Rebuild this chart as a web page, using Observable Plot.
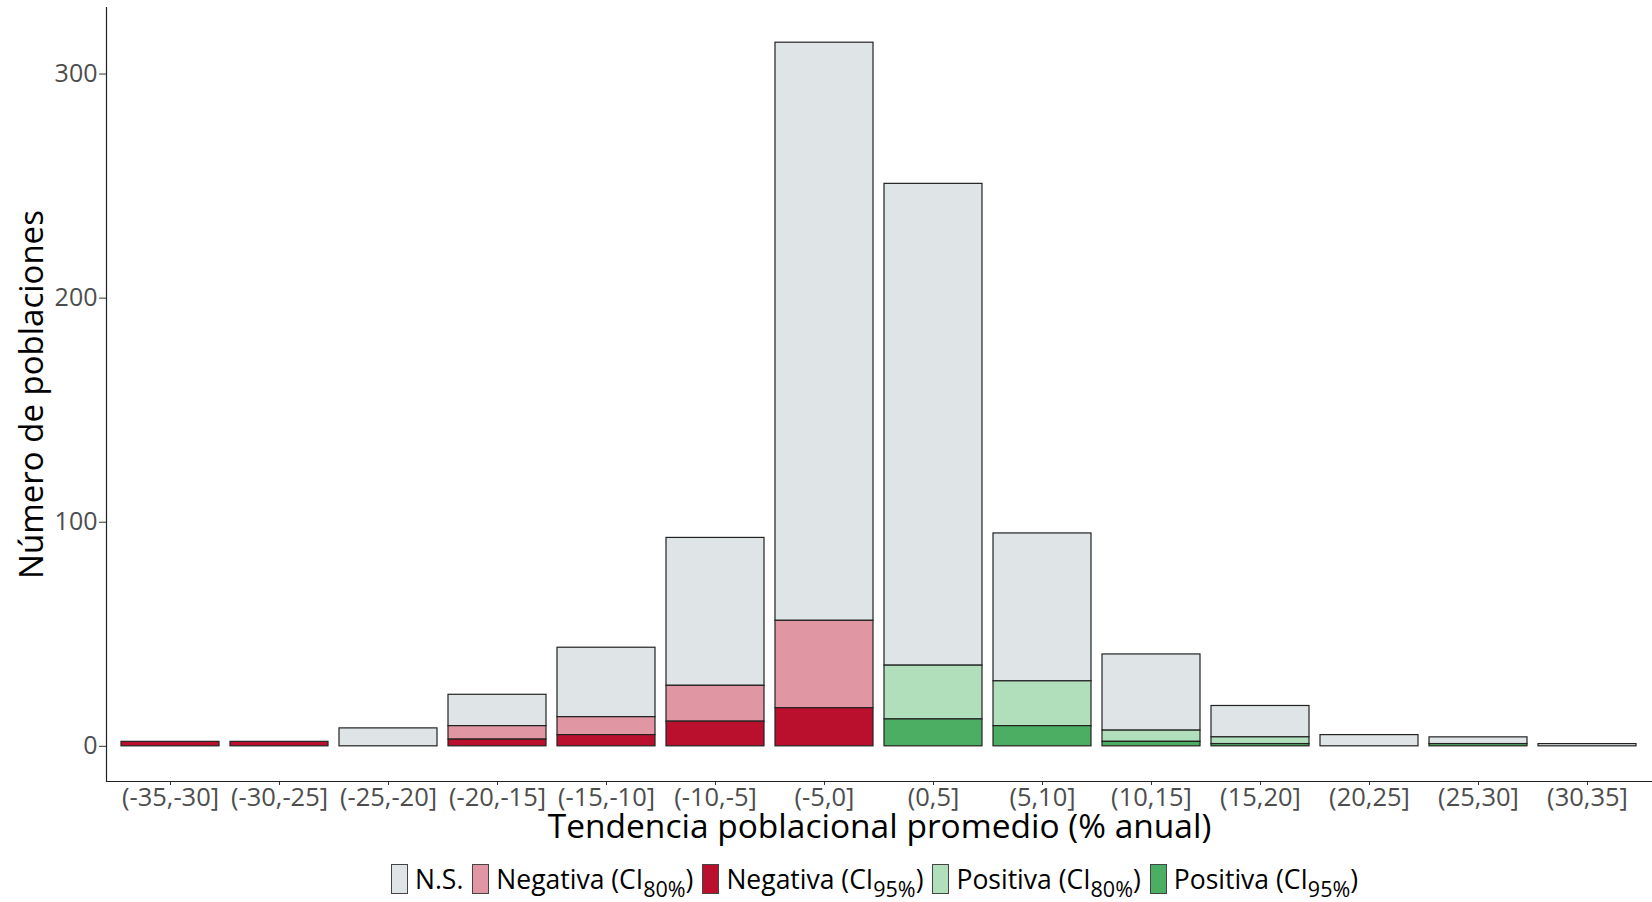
<!DOCTYPE html>
<html><head><meta charset="utf-8">
<script src="https://cdn.jsdelivr.net/npm/d3@7"></script>
<script src="https://cdn.jsdelivr.net/npm/@observablehq/plot@0.6"></script>
<style>
body{margin:0;background:#fff;font-family:"Open Sans",sans-serif;}
#legend{display:flex;justify-content:center;align-items:center;margin-left:106px;width:1546px;height:58px;font-size:26.5px;color:#000;}
.item{display:flex;align-items:center;margin-right:9px;white-space:nowrap}
.key{width:17px;height:30px;border:1.2px solid #444;box-sizing:border-box;margin-right:7px}
sub{font-size:21.5px;vertical-align:-8px;line-height:0}
</style></head><body><div id="chart"></div><div id="legend"></div>
<script>
const categories = ["(-35,-30]","(-30,-25]","(-25,-20]","(-20,-15]","(-15,-10]","(-10,-5]","(-5,0]","(0,5]","(5,10]","(10,15]","(15,20]","(20,25]","(25,30]","(30,35]"];
const ns    = [0, 0, 8, 14, 31, 66, 258, 215, 66, 34, 14, 5, 3, 1];
const neg80 = [0, 0, 0,  6,  8, 16,  39,   0,  0,  0,  0, 0, 0, 0];
const neg95 = [2, 2, 0,  3,  5, 11,  17,   0,  0,  0,  0, 0, 0, 0];
const pos80 = [0, 0, 0,  0,  0,  0,   0,  24, 20,  5,  3, 0, 0, 0];
const pos95 = [0, 0, 0,  0,  0,  0,   0,  12,  9,  2,  1, 0, 1, 0];
const yTicks = [0, 100, 200, 300];

const seriesKeys = ["N.S.", "Negativa (CI80%)", "Negativa (CI95%)", "Positiva (CI80%)", "Positiva (CI95%)"];
const seriesLabels = ["N.S.", "Negativa (CI<sub>80%</sub>)", "Negativa (CI<sub>95%</sub>)", "Positiva (CI<sub>80%</sub>)", "Positiva (CI<sub>95%</sub>)"];
const seriesColors = ["#dfe5e7", "#e097a3", "#bb0f2e", "#b2dfbb", "#4cae62"];
const seriesValues = [ns, neg80, neg95, pos80, pos95];
const stackOrder = ["Negativa (CI95%)", "Positiva (CI95%)", "Negativa (CI80%)", "Positiva (CI80%)", "N.S."];

const data = [];
categories.forEach((c, i) => {
  seriesKeys.forEach((s, j) => {
    const v = seriesValues[j][i];
    if (v > 0) data.push({cat: c, series: s, value: v});
  });
});

const chart = Plot.plot({
  width: 1652,
  height: 850,
  marginLeft: 106,
  marginRight: 0,
  marginTop: 7,
  marginBottom: 69,
  style: {fontFamily: '"Open Sans", sans-serif', background: "#fff"},
  x: {domain: categories, paddingInner: 0.1, paddingOuter: 0.13, align: 0.5, label: null},
  y: {domain: [-15.7, 329.7], label: null},
  color: {domain: seriesKeys, range: seriesColors},
  marks: [
    Plot.barY(data, {x: "cat", y: "value", fill: "series", order: stackOrder, stroke: "#222", strokeWidth: 1.2}),
    Plot.axisY({ticks: yTicks, tickSize: 7, tickPadding: 2, fontSize: 25, fill: "#4d4d4d", stroke: "#333", label: null}),
    Plot.axisX({tickSize: 4, tickPadding: 2, fontSize: 25.5, fill: "#4d4d4d", stroke: "#333", label: null}),
    Plot.ruleY([-15.7], {stroke: "#222", strokeWidth: 1.2}),
    Plot.frame({anchor: "left", stroke: "#222", strokeWidth: 1.2}),
    Plot.text(["Número de poblaciones"], {frameAnchor: "left", textAnchor: "middle", lineAnchor: "middle", rotate: -90, dx: -74, fontSize: 33, fill: "#000"}),
    Plot.text(["Tendencia poblacional promedio (% anual)"], {frameAnchor: "bottom", textAnchor: "middle", lineAnchor: "middle", dy: 46, fontSize: 33.5, fill: "#000"})
  ]
});
document.getElementById("chart").appendChild(chart);

const legend = document.getElementById("legend");
seriesKeys.forEach((s, j) => {
  const item = document.createElement("div");
  item.className = "item";
  item.innerHTML = `<span class="key" style="background:${seriesColors[j]}"></span><span>${seriesLabels[j]}</span>`;
  legend.appendChild(item);
});
</script>
</body></html>
